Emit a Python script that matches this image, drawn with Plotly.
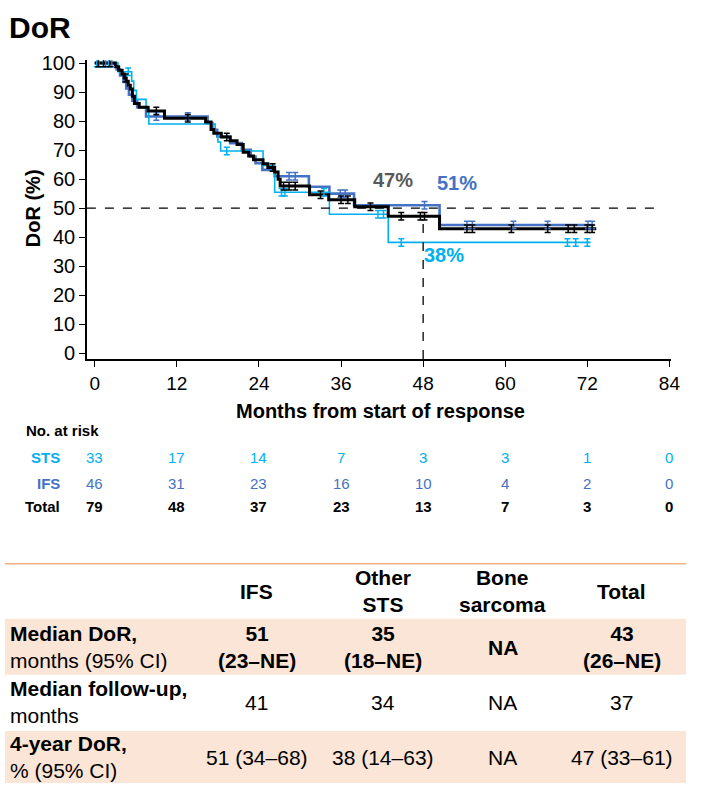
import plotly.graph_objects as go

# ---------------- data ----------------
# Kaplan-Meier step data (months, DoR %)
sts_times = [0, 3.4, 5.4, 5.7, 6.1, 7.5, 7.9, 17.6, 18.0, 18.4, 24.6, 26.3, 34.3, 42.9]
sts_surv = [100, 97.0, 93.8, 90.6, 87.5, 84.2, 79.0, 75.9, 72.8, 69.7, 64.7, 55.5, 47.9, 38.2]
sts_end = 72.5
sts_censor = [0.3, 1.25, 2.0, 4.9, 19.3, 27.3, 27.8, 33.5, 41.4, 42.2, 44.8, 69.1, 70.3, 72.0]

ifs_times = [0, 3.2, 3.7, 4.2, 4.6, 5.0, 5.5, 6.2, 7.5, 16.5, 17.2, 17.9, 19.8, 21.5, 22.8, 23.5,
             24.5, 26.3, 31.3, 34.3, 37.9, 50.4]
ifs_surv = [100, 97.8, 95.7, 93.5, 91.3, 89.1, 87.0, 84.8, 81.6, 79.3, 77.0, 74.7, 72.4, 70.1, 67.8,
            65.5, 63.2, 61.0, 57.4, 55.0, 51.0, 44.2]
ifs_end = 73.0
ifs_censor = [0.6, 1.6, 2.5, 9.0, 13.6, 28.4, 29.3, 35.9, 36.6, 48.2, 54.4, 55.2, 61.2, 66.2, 72.1, 72.7]

tot_times = [0, 3.0, 3.5, 4.0, 4.3, 4.6, 4.9, 5.2, 5.5, 5.8, 6.5, 7.8, 10.2, 16.2, 17.0, 17.4, 18.5,
             19.8, 20.8, 21.7, 22.5, 23.2, 24.6, 25.3, 26.3, 26.8, 27.1, 31.4, 34.2, 38.0, 42.9, 50.4]
tot_surv = [100, 98.7, 97.5, 96.2, 94.9, 93.7, 92.4, 91.1, 88.6, 86.1, 84.8, 83.5, 81.0, 79.7, 77.1,
            75.8, 74.5, 73.2, 71.9, 69.3, 68.0, 66.7, 65.3, 64.0, 62.5, 60.0, 57.6, 54.6, 52.9, 50.5,
            47.2, 42.9]
tot_end = 73.3
tot_censor = [0.5, 1.3, 2.2, 4.5, 9.0, 13.6, 19.3, 26.0, 27.6, 28.4, 29.3, 33.0, 36.0, 37.0, 40.3,
              44.8, 47.6, 48.2, 54.4, 55.2, 60.9, 66.2, 69.2, 70.1, 72.0, 72.7]

x_ticks = [0, 12, 24, 36, 48, 60, 72, 84]
y_ticks = [0, 10, 20, 30, 40, 50, 60, 70, 80, 90, 100]

risk_labels = ["STS", "IFS", "Total"]
risk_sts = [33, 17, 14, 7, 3, 3, 1, 0]
risk_ifs = [46, 31, 23, 16, 10, 4, 2, 0]
risk_tot = [79, 48, 37, 23, 13, 7, 3, 0]

landmark_month = 48
landmark_labels = ["47%", "51%", "38%"]

table_header = ["IFS", "Other<br>STS", "Bone<br>sarcoma", "Total"]
table_rows = ["<b>Median DoR,</b><br>months (95% CI)",
              "<b>Median follow-up,</b><br>months",
              "<b>4-year DoR,</b><br>% (95% CI)"]
table_values = [
    ["<b>51<br>(23–NE)</b>", "<b>35<br>(18–NE)</b>", "<b>NA</b>", "<b>43<br>(26–NE)</b>"],
    ["41", "34", "NA", "37"],
    ["51 (34–68)", "38 (14–63)", "NA", "47 (33–61)"],
]

# ---------------- styles ----------------
C_STS = "#00B0F0"
C_IFS = "#4472C4"
C_TOT = "#000000"
C_47 = "#595959"
SHADE = "#FBE5D6"
ORANGE = "#F4B183"
FONT = "Liberation Sans, Arial, sans-serif"

W, H = 707, 790


def px(x):
    return x / W


def py(y):
    return 1 - y / H


def step_value(times, surv, t):
    v = surv[0]
    for ti, si in zip(times, surv):
        if ti <= t:
            v = si
    return v


def note(x, y, text, size, color, xanchor="center", xref="paper", yref="paper",
         align="center", angle=0):
    fig.add_annotation(x=x, y=y, xref=xref, yref=yref, xanchor=xanchor, yanchor="middle",
                       align=align, text=text, showarrow=False, textangle=angle,
                       font=dict(size=size, color=color, family=FONT))


fig = go.Figure()

series = [
    (ifs_times, ifs_surv, ifs_end, ifs_censor, C_IFS, 2.6),
    (sts_times, sts_surv, sts_end, sts_censor, C_STS, 1.6),
    (tot_times, tot_surv, tot_end, tot_censor, C_TOT, 3.0),
]
for t, s, end, cens, col, lw in series:
    fig.add_trace(go.Scatter(x=t + [end], y=s + [s[-1]], mode="lines",
                             line=dict(shape="hv", color=col, width=lw),
                             hoverinfo="skip", showlegend=False))
for t, s, end, cens, col, lw in series:
    fig.add_trace(go.Scatter(x=cens, y=[step_value(t, s, c) for c in cens], mode="markers",
                             marker=dict(size=0.1, color=col),
                             error_y=dict(type="constant", value=1.3, color=col,
                                          thickness=1.5, width=3),
                             hoverinfo="skip", showlegend=False))

# reference lines
tot48 = step_value(tot_times, tot_surv, landmark_month)
fig.add_shape(type="line", xref="x", yref="y", x0=-1.15, x1=82.8, y0=50, y1=50,
              line=dict(color="black", width=1.3, dash="dash"))
fig.add_shape(type="line", xref="x", yref="y", x0=landmark_month, x1=landmark_month,
              y0=-2, y1=tot48, line=dict(color="black", width=1.3, dash="dash"))

# landmark labels
note(43.6, 59.7, "<b>%s</b>" % landmark_labels[0], 20, C_47, xref="x", yref="y")
note(53.0, 58.6, "<b>%s</b>" % landmark_labels[1], 20, C_IFS, xref="x", yref="y")
note(51.1, 33.9, "<b>%s</b>" % landmark_labels[2], 20, C_STS, xref="x", yref="y")

# title and axis titles
note(px(7), py(20), "<b>DoR</b>", 30, "black", xanchor="left")
note(px(33), py(204), "<b>DoR (%)</b>", 20, "black", angle=-90)
note(px(385), py(410), "<b>Months from start of response</b>", 20, "black")

# number at risk
note(px(24), py(430), "<b>No. at risk</b>", 15, "black", xanchor="left")
risk_rows = [(risk_sts, C_STS, 457, False), (risk_ifs, C_IFS, 483, False), (risk_tot, C_TOT, 507, True)]
for lab, (vals, col, ypix, bold) in zip(risk_labels, risk_rows):
    note(px(63), py(ypix), "<b>%s</b>" % lab, 15, col, xanchor="right")
    for xt, v in zip(x_ticks, vals):
        txt = "<b>%d</b>" % v if bold else "%d" % v
        note(xt, py(ypix), txt, 15, col, xref="x")

# bottom table
fig.add_shape(type="line", xref="paper", yref="paper", x0=px(5), x1=px(695), y0=py(565), y1=py(565),
              line=dict(color=ORANGE, width=1.5))
row_bands = [(621, 678, SHADE), (735, 788, SHADE)]
for y0, y1, fc in row_bands:
    fig.add_shape(type="rect", xref="paper", yref="paper", x0=px(5), x1=px(695),
                  y0=py(y1), y1=py(y0), fillcolor=fc, line=dict(width=0), layer="below")
col_centers = [260, 388, 509, 630]
for xc, htxt in zip(col_centers, table_header):
    note(px(xc), py(593), "<b>%s</b>" % htxt, 21, "black")
row_centers = [650, 706, 762]
for yc, lab, vals in zip(row_centers, table_rows, table_values):
    note(px(8), py(yc), lab, 21, "black", xanchor="left", align="left")
    for xc, v in zip(col_centers, vals):
        note(px(xc), py(yc), v, 21, "black")

fig.update_layout(
    width=W, height=H, margin=dict(l=0, r=0, t=0, b=0),
    paper_bgcolor="white", plot_bgcolor="white",
    font=dict(family=FONT, color="black"),
    xaxis=dict(domain=[px(88), px(680)], range=[-1.15, 84.28], tickvals=x_ticks,
               ticktext=[str(v) for v in x_ticks], showgrid=False, zeroline=False,
               showline=True, linecolor="black", linewidth=1.5, ticks="outside", ticklen=6,
               tickwidth=1.3, tickcolor="black", tickfont=dict(size=19, family=FONT, color="black"),
               fixedrange=True),
    yaxis=dict(domain=[py(357), py(53)], range=[-2.03, 101.02], tickvals=y_ticks, showgrid=False,
               zeroline=False, showline=True, linecolor="black", linewidth=1.5, ticks="outside",
               ticklen=6, tickwidth=1.3, tickcolor="black",
               tickfont=dict(size=20, family=FONT, color="black"), fixedrange=True),
)

fig.write_html("out.html", config={"displayModeBar": False},
               post_script="document.body.style.margin='0px';")
